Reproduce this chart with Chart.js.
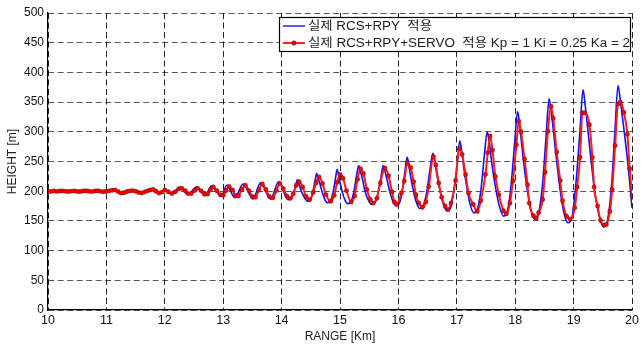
<!DOCTYPE html>
<html>
<head>
<meta charset="utf-8">
<script src="https://cdn.jsdelivr.net/npm/chart.js@4.4.0/dist/chart.umd.min.js"></script>
<style>
  html, body { margin: 0; padding: 0; background: #fff; }
  #wrap { width: 642px; height: 345px; }
</style>
</head>
<body>
<div id="wrap"><canvas id="plot" width="642" height="345"></canvas></div>
<script>
// values
const xTicks = [10, 11, 12, 13, 14, 15, 16, 17, 18, 19, 20];
const yTicks = [0, 50, 100, 150, 200, 250, 300, 350, 400, 450, 500];

const legendLabels = ['실제 RCS+RPY  적용', '실제 RCS+RPY+SERVO  적용 Kp = 1 Ki = 0.25 Ka = 2'];

// blue: 실제 RCS+RPY 적용
const rangeBlue = [
  10.0, 10.25, 10.5, 10.75, 11.0, 11.15, 11.27, 11.47, 11.61, 11.81, 11.92,
  12.0, 12.12, 12.26, 12.4, 12.54, 12.69, 12.8, 12.97, 13.06, 13.2, 13.34, 13.51, 13.64, 13.81, 13.95,
  14.11, 14.16, 14.2, 14.24, 14.27, 14.29, 14.32, 14.36, 14.405,
  14.45, 14.495, 14.53, 14.57, 14.6, 14.62, 14.66, 14.7, 14.74,
  14.79, 14.84, 14.88, 14.92, 14.95, 14.97, 15.0, 15.04, 15.085,
  15.13, 15.19, 15.235, 15.28, 15.32, 15.345, 15.39, 15.43, 15.485,
  15.54, 15.6, 15.65, 15.7, 15.74, 15.765, 15.81, 15.855, 15.905,
  15.96, 16.02, 16.065, 16.11, 16.15, 16.175, 16.21, 16.26, 16.31,
  16.36, 16.43, 16.485, 16.54, 16.59, 16.62, 16.66, 16.715, 16.77,
  16.83, 16.9, 16.95, 17.01, 17.05, 17.08, 17.12, 17.175, 17.23,
  17.29, 17.36, 17.415, 17.47, 17.52, 17.555, 17.6, 17.665, 17.73,
  17.8, 17.87, 17.93, 17.99, 18.04, 18.075, 18.125, 18.19, 18.26,
  18.33, 18.405, 18.47, 18.53, 18.58, 18.62, 18.68, 18.75, 18.82,
  18.9, 18.98, 19.04, 19.11, 19.16, 19.2, 19.265, 19.34, 19.42,
  19.51, 19.585, 19.65, 19.71, 19.76, 19.8, 19.86, 19.93, 20.0
];
const heightBlue = [
  200, 200.5, 199.5, 200.5, 199.5, 202, 196.5, 201, 197, 203, 196.5,
  203, 195.5, 206.5, 194.5, 207, 193, 208.5, 191.5, 210, 189, 212, 187, 214, 186.5, 216,
  185.5, 187.5, 195.5, 209, 219, 214.5, 205, 195, 187,
  183, 186, 197, 216, 230, 224, 211, 197, 186,
  180.5, 184, 197.5, 220, 237, 230, 215, 198, 185,
  179, 183, 198, 224, 243, 235, 218, 199, 185,
  177.5, 181.5, 197, 223, 243, 235, 217, 198, 183,
  175.5, 180.5, 200, 232, 257, 247, 224, 199, 180.5,
  171, 176.5, 199, 236, 264, 252, 227, 199, 178,
  167, 174, 202, 250, 285, 270, 239, 204, 177,
  163.5, 172, 204, 259, 300, 283, 246, 205, 174,
  158, 168.5, 211, 281, 334, 312, 265, 213, 172.5,
  153, 165, 214, 295, 356, 331, 277, 216, 170,
  147, 160.5, 214, 304, 371, 343, 283, 216, 165.5,
  140, 154, 211, 307, 378, 352, 305, 245, 172
];

// red: 실제 RCS+RPY+SERVO 적용
const rangeRed = [
  10.0, 10.05, 10.1, 10.15, 10.2, 10.25, 10.3, 10.35, 10.4, 10.45, 10.5, 10.55, 10.6, 10.65, 10.7, 10.75,
  10.8, 10.85, 10.9, 10.95, 11.0, 11.05, 11.1, 11.15, 11.2, 11.25, 11.3, 11.35, 11.4, 11.45, 11.5, 11.55,
  11.6, 11.65, 11.7, 11.75, 11.8, 11.85, 11.9, 11.95,
  12.0, 12.06, 12.12, 12.18, 12.24, 12.29, 12.35, 12.4, 12.45, 12.51, 12.56, 12.62, 12.68, 12.73, 12.78,
  12.83, 12.89, 12.95, 13.0, 13.05, 13.1, 13.16, 13.21, 13.26, 13.32, 13.38, 13.44, 13.5, 13.55, 13.61,
  13.67, 13.73, 13.79, 13.85, 13.91, 13.97, 14.03, 14.09, 14.15, 14.2, 14.25, 14.3, 14.36, 14.42, 14.48,
  14.54, 14.59, 14.64, 14.7, 14.76, 14.84, 14.9, 14.95, 15.0, 15.05, 15.11, 15.19, 15.25, 15.3, 15.35,
  15.4, 15.46, 15.52, 15.57, 15.63, 15.69, 15.77, 15.83, 15.89, 15.93, 15.97, 16.05, 16.1, 16.15, 16.21,
  16.26, 16.3, 16.35, 16.41, 16.47, 16.52, 16.6, 16.64, 16.69, 16.74, 16.8, 16.85, 16.9, 16.98, 17.04,
  17.09, 17.15, 17.2, 17.28, 17.35, 17.41, 17.49, 17.53, 17.57, 17.61, 17.66, 17.72, 17.8, 17.85, 17.91,
  17.96, 18.02, 18.06, 18.1, 18.16, 18.21, 18.24, 18.31, 18.36, 18.4, 18.47, 18.51, 18.56, 18.61, 18.65,
  18.71, 18.77, 18.81, 18.88, 18.94, 19.02, 19.06, 19.11, 19.15, 19.19, 19.27, 19.32, 19.35, 19.41, 19.46,
  19.52, 19.56, 19.62, 19.66, 19.71, 19.76, 19.8, 19.86, 19.92, 19.96, 20.0
];
const heightRed = [
  200, 199.6, 200.4, 199.7, 200.3, 200.6, 199.8, 199.5, 200.2, 200.5, 199.6, 199.4, 200.3, 200.7, 199.8, 199.3,
  200.4, 200.8, 199.7, 199.2, 199.8, 200.6, 201.5, 202, 199.5, 196.8, 197.5, 199.5, 200.5, 201, 200, 198,
  197, 198.5, 200.5, 202, 203, 200, 196.8, 198.5,
  202, 199, 196, 199, 204, 205, 201, 196, 196, 201, 205, 201, 195, 195, 202,
  207, 201, 194, 193, 201, 208, 202, 193, 192, 203, 210, 201, 191, 190, 202,
  212, 203, 191, 189, 201, 213, 204, 192, 188, 196, 210, 216, 207, 191, 186,
  198, 214, 224, 213, 194, 183, 193, 215, 228, 222, 201, 182, 192, 220, 238,
  230, 203, 186, 180, 188, 214, 239, 226, 199, 182, 178, 197, 217, 247, 240,
  216, 194, 180, 173, 182, 208, 258, 244, 214, 190, 175, 169, 180, 218, 272,
  262, 228, 197, 178, 166, 184, 228, 265, 293, 269, 225, 194, 167, 162, 180,
  217, 278, 318, 300, 254, 211, 180, 159, 155, 164, 186, 232, 301, 343, 323,
  266, 218, 184, 158, 153, 172, 207, 257, 332, 332, 312, 257, 207, 175, 151,
  143, 144, 166, 203, 277, 347, 350, 333, 296, 238, 193
];

const zip = (xs, ys) => xs.map((x, i) => ({ x: x, y: ys[i] }));

const FONT = '"Liberation Sans", Arial, "Noto Sans CJK KR", sans-serif';

// MATLAB-style legend box in the top right corner
const legendBox = {
    id: 'legendBox',
    afterDraw(chart) {
        const c = chart.ctx;
        const x0 = 279, y0 = 17, x1 = 631, y1 = 52;
        c.save();
        c.fillStyle = '#fff';
        c.fillRect(x0, y0, x1 - x0, y1 - y0);
        c.strokeStyle = '#000';
        c.lineWidth = 1.2;
        c.strokeRect(x0 + 0.5, y0 + 0.5, x1 - x0 - 1, y1 - y0 - 1);

        const rows = [26, 43];
        // line samples
        c.lineWidth = 1.5;
        c.strokeStyle = '#2020ff';
        c.beginPath(); c.moveTo(283, rows[0]); c.lineTo(305, rows[0]); c.stroke();
        c.strokeStyle = '#ff2020';
        c.lineWidth = 2;
        c.beginPath(); c.moveTo(283, rows[1]); c.lineTo(305, rows[1]); c.stroke();
        c.fillStyle = '#ff0000';
        c.strokeStyle = 'rgba(0,0,0,0.7)';
        c.lineWidth = 0.6;
        c.beginPath(); c.arc(294, rows[1], 2.2, 0, Math.PI * 2); c.fill(); c.stroke();

        // texts, stretched to the reference widths
        c.fillStyle = '#222';
        c.textBaseline = 'middle';
        c.textAlign = 'left';
        const widths = [124, 322];
        legendLabels.forEach((t, i) => {
            c.font = '12.5px ' + FONT;
            const w = c.measureText(t).width;
            c.save();
            c.translate(308, rows[i] + 0.5);
            c.scale(widths[i] / w, 1);
            c.fillText(t, 0, 0);
            c.restore();
        });
        c.restore();
    }
};

new Chart(document.getElementById('plot'), {
    type: 'line',
    data: {
        datasets: [{
            label: legendLabels[0],
            data: zip(rangeBlue, heightBlue),
            borderColor: '#1010ff',
            borderWidth: 1.6,
            pointRadius: 0,
            cubicInterpolationMode: 'monotone',
            order: 2
        }, {
            label: legendLabels[1],
            data: zip(rangeRed, heightRed),
            borderColor: '#ff1a1a',
            borderWidth: 2,
            backgroundColor: '#ff0000',
            pointStyle: 'circle',
            pointRadius: 2.2,
            pointBorderColor: 'rgba(0,0,0,0.55)',
            pointBorderWidth: 0.5,
            pointBackgroundColor: '#ff0000',
            cubicInterpolationMode: 'monotone',
            order: 1
        }]
    },
    options: {
        responsive: false,
        animation: false,
        events: [],
        layout: { padding: { left: 0, right: 8, top: 13, bottom: 0 } },
        plugins: {
            legend: { display: false },
            tooltip: { enabled: false }
        },
        scales: {
            x: {
                type: 'linear',
                min: 10,
                max: 20,
                afterFit: s => { s.height = 35; },
                afterBuildTicks: s => { s.ticks = xTicks.map(v => ({ value: v })); },
                ticks: { color: '#111', font: { family: FONT, size: 12.5 }, padding: 3, maxRotation: 0 },
                grid: { color: 'rgba(0,0,0,0.85)', lineWidth: 1, drawTicks: false, tickLength: 0 },
                border: { display: true, color: '#000', width: 1.2, dash: [6, 3.5] },
                title: { display: true, text: 'RANGE [Km]', color: '#222', font: { family: FONT, size: 12 }, padding: { top: 0, bottom: 1 } }
            },
            y: {
                min: 0,
                max: 500,
                afterFit: s => { s.width = 48; },
                afterBuildTicks: s => { s.ticks = yTicks.map(v => ({ value: v })); },
                ticks: { color: '#111', font: { family: FONT, size: 12 }, padding: 4 },
                grid: { color: 'rgba(0,0,0,0.65)', lineWidth: 1, drawTicks: false, tickLength: 0 },
                border: { display: true, color: '#000', width: 1.2, dash: [6, 3.5] },
                title: { display: true, text: 'HEIGHT [m]', color: '#222', font: { family: FONT, size: 12 }, padding: { top: 5, bottom: 0 } }
            }
        }
    },
    plugins: [legendBox]
});
</script>
</body>
</html>
